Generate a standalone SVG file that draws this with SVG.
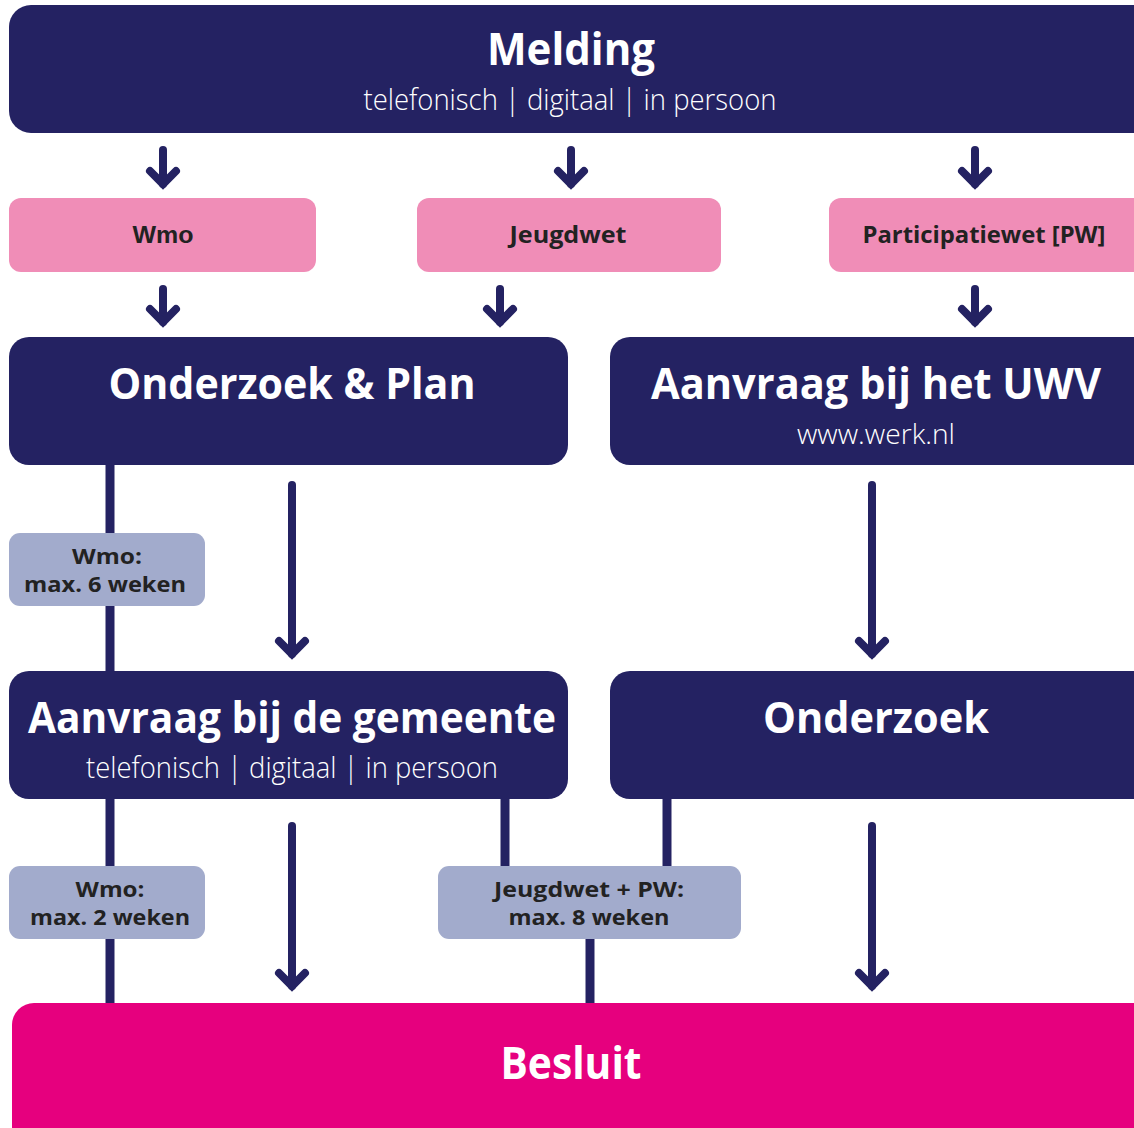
<svg xmlns="http://www.w3.org/2000/svg" width="1134" height="1128" viewBox="0 0 1134 1128">
<defs>
<style>
.navy{fill:#242262}
.pink{fill:#f08db7}
.grey{fill:#a2abcc}
.red{fill:#e6007e}
.t{font-family:"Open Sans","Liberation Sans",sans-serif;text-anchor:middle}
.title{font-weight:700;fill:#ffffff}
.sub{font-weight:300;fill:#ffffff}
.lab{font-weight:700;fill:#222222}
.ln{stroke:#242262;stroke-width:9;fill:none}
.ar{stroke:#242262;stroke-width:8;fill:none;stroke-linecap:round;marker-end:url(#chev)}
</style>
<marker id="chev" markerUnits="userSpaceOnUse" viewBox="-30 -30 60 60" markerWidth="60" markerHeight="60" refX="0" refY="0" orient="auto">
<path d="M -13,-13 L 0,0 L -13,13" fill="none" stroke="#242262" stroke-width="8" stroke-linecap="round" stroke-linejoin="miter"/>
</marker>
</defs>
<rect width="1134" height="1128" fill="#ffffff"/>

<g id="connectors">
<path class="ar" d="M163,150 L163,184"/>
<path class="ar" d="M571,150 L571,184"/>
<path class="ar" d="M975,150 L975,184"/>
<path class="ar" d="M163,289 L163,322"/>
<path class="ar" d="M500,289 L500,322"/>
<path class="ar" d="M975,289 L975,322"/>
<path class="ln" d="M110,465 L110,672"/>
<path class="ar" d="M292,485 L292,654"/>
<path class="ar" d="M872,485 L872,654"/>
<path class="ln" d="M110,798 L110,1004"/>
<path class="ar" d="M292,826 L292,986"/>
<path class="ln" d="M505,798 L505,867"/>
<path class="ln" d="M667,798 L667,867"/>
<path class="ln" d="M590,938 L590,1004"/>
<path class="ar" d="M872,826 L872,986"/>
</g>

<g id="melding">
<rect class="navy" x="9" y="5" width="1150" height="128" rx="22"/>
<text class="t title" x="571" y="65" font-size="44" textLength="168" lengthAdjust="spacingAndGlyphs">Melding</text>
<text class="t sub" x="570" y="110" font-size="29" textLength="413" lengthAdjust="spacingAndGlyphs">telefonisch | digitaal | in persoon</text>
</g>

<g id="wmo">
<rect class="pink" x="9" y="198" width="307" height="74" rx="12"/>
<text class="t lab" x="163" y="243" font-size="24" style="font-family:'Liberation Sans',Arial,sans-serif" textLength="61" lengthAdjust="spacingAndGlyphs">Wmo</text>
</g>
<g id="jeugdwet">
<rect class="pink" x="417" y="198" width="304" height="74" rx="12"/>
<text class="t lab" x="568" y="243" font-size="24" textLength="117" lengthAdjust="spacingAndGlyphs">Jeugdwet</text>
</g>
<g id="participatiewet">
<rect class="pink" x="829" y="198" width="330" height="74" rx="12"/>
<text class="t lab" x="984" y="243" font-size="24" textLength="243" lengthAdjust="spacingAndGlyphs">Participatiewet [PW]</text>
</g>

<g id="onderzoek-plan">
<rect class="navy" x="9" y="337" width="559" height="128" rx="20"/>
<text class="t title" x="292" y="399" font-size="43" textLength="367" lengthAdjust="spacingAndGlyphs">Onderzoek &amp; Plan</text>
</g>
<g id="aanvraag-uwv">
<rect class="navy" x="610" y="337" width="550" height="128" rx="20"/>
<text class="t title" x="876" y="399" font-size="43" textLength="450" lengthAdjust="spacingAndGlyphs">Aanvraag bij het UWV</text>
<text class="t sub" x="876" y="444" font-size="27" textLength="158" lengthAdjust="spacingAndGlyphs">www.werk.nl</text>
</g>

<g id="wmo-6">
<rect class="grey" x="9" y="533" width="196" height="73" rx="11"/>
<text class="t lab" x="107" y="564" font-size="22" textLength="70" lengthAdjust="spacingAndGlyphs">Wmo:</text>
<text class="t lab" x="105" y="592" font-size="22" textLength="162" lengthAdjust="spacingAndGlyphs">max. 6 weken</text>
</g>

<g id="aanvraag-gemeente">
<rect class="navy" x="9" y="671" width="559" height="128" rx="20"/>
<text class="t title" x="292" y="733" font-size="43" textLength="528" lengthAdjust="spacingAndGlyphs">Aanvraag bij de gemeente</text>
<text class="t sub" x="292" y="778" font-size="29" textLength="412" lengthAdjust="spacingAndGlyphs">telefonisch | digitaal | in persoon</text>
</g>
<g id="onderzoek">
<rect class="navy" x="610" y="671" width="550" height="128" rx="20"/>
<text class="t title" x="876" y="733" font-size="43" textLength="226" lengthAdjust="spacingAndGlyphs">Onderzoek</text>
</g>

<g id="wmo-2">
<rect class="grey" x="9" y="866" width="196" height="73" rx="11"/>
<text class="t lab" x="110" y="897" font-size="22" textLength="69" lengthAdjust="spacingAndGlyphs">Wmo:</text>
<text class="t lab" x="110" y="925" font-size="22" textLength="160" lengthAdjust="spacingAndGlyphs">max. 2 weken</text>
</g>
<g id="jeugdwet-pw-8">
<rect class="grey" x="438" y="866" width="303" height="73" rx="11"/>
<text class="t lab" x="589" y="897" font-size="22" textLength="190" lengthAdjust="spacingAndGlyphs">Jeugdwet + PW:</text>
<text class="t lab" x="589" y="925" font-size="22" textLength="161" lengthAdjust="spacingAndGlyphs">max. 8 weken</text>
</g>

<g id="besluit">
<rect class="red" x="12" y="1003" width="1150" height="160" rx="22"/>
<text class="t title" x="571" y="1079" font-size="45" textLength="141" lengthAdjust="spacingAndGlyphs">Besluit</text>
</g>
</svg>
